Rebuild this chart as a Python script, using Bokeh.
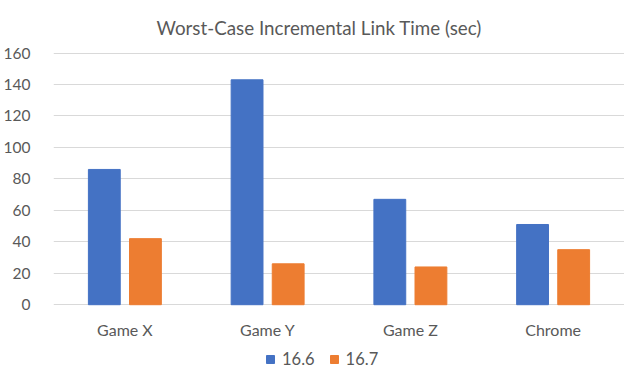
from bokeh.plotting import figure
from bokeh.models import Range1d, FactorRange, Legend, LegendItem
from bokeh.core.properties import value
from bokeh.transform import dodge
from bokeh.embed import file_html
from bokeh.resources import INLINE

categories = ["Game X", "Game Y", "Game Z", "Chrome"]
series_names = ["16.6", "16.7"]
v_166 = [86, 143, 67, 51]
v_167 = [42, 26, 24, 35]
y_ticks = [0, 20, 40, 60, 80, 100, 120, 140, 160]

FONT = "Lato"
GREY = "#595959"

p = figure(width=624, height=369, x_range=FactorRange(*categories),
           y_range=Range1d(-41.2, 161), output_backend="svg", toolbar_location=None,
           x_axis_location=None,
           min_border_left=52, min_border_right=0, min_border_top=51, min_border_bottom=0,
           title="Worst-Case Incremental Link Time (sec)")
p.title.align = "left"
p.title.vertical_align = "top"
p.title.offset = 103
p.title.standoff = 22
p.title.text_font = FONT
p.title.text_font_size = "18.8px"
p.title.text_font_style = "normal"
p.title.text_color = GREY

src = dict(cat=categories, a=v_166, b=v_167, zero=[0] * len(categories))
r1 = p.vbar(x=dodge("cat", -0.144, range=p.x_range), top="a", width=0.223, source=src,
            fill_color="#4472C4", line_color="#4472C4")
r2 = p.vbar(x=dodge("cat", 0.144, range=p.x_range), top="b", width=0.223, source=src,
            fill_color="#ED7D31", line_color="#ED7D31")

# category labels under the zero line
p.text(x="cat", y="zero", text="cat", source=src, y_offset=25,
       text_align="center", text_baseline="middle",
       text_font=value(FONT), text_font_size="16px", text_color=GREY)

p.outline_line_color = None
p.xgrid.grid_line_color = None
p.ygrid.grid_line_color = "#d9d9d9"
p.ygrid.ticker = y_ticks
p.yaxis.ticker = y_ticks
p.yaxis.axis_line_color = None
p.yaxis.major_tick_line_color = None
p.yaxis.minor_tick_line_color = None
p.yaxis.major_label_text_font = FONT
p.yaxis.major_label_text_font_size = "15.5px"
p.yaxis.major_label_text_color = GREY
p.yaxis.major_label_standoff = 17

legend = Legend(items=[LegendItem(label=series_names[0], renderers=[r1]),
                       LegendItem(label=series_names[1], renderers=[r2])],
                orientation="horizontal", location=(212, 0),
                label_text_font=FONT, label_text_font_size="16.5px", label_text_color=GREY,
                glyph_width=10, glyph_height=10, spacing=14, label_standoff=7,
                border_line_color=None, background_fill_alpha=0, padding=0, margin=0)
p.add_layout(legend, "center")

open("out.html", "w").write(file_html(p, INLINE))
